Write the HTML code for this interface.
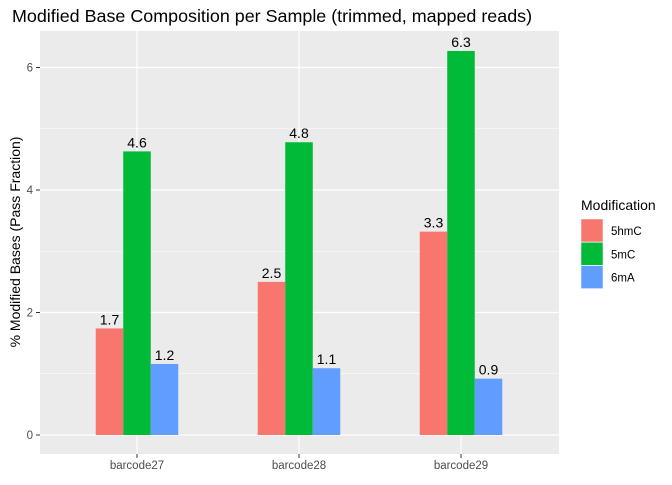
<!DOCTYPE html>
<html><head><meta charset="utf-8"><style>
body{margin:0;background:#fff;}
svg text{font-family:"Liberation Sans",sans-serif;}
</style></head><body>
<svg id="chart" width="672" height="480" xmlns="http://www.w3.org/2000/svg">
<rect width="672" height="480" fill="#fff"/>
<text x="12" y="22" font-size="17.9" fill="#000">Modified Base Composition per Sample (trimmed, mapped reads)</text>
<rect x="40" y="31" width="519" height="423" fill="#ebebeb"/>
<g id="grid"></g>
<g id="bars"></g>
<g id="axes"></g>
<text transform="translate(20,242) rotate(-90)" text-anchor="middle" font-size="14" fill="#000">% Modified Bases (Pass Fraction)</text>
<g>
<text x="581" y="210" font-size="14" fill="#000">Modification</text>
<g id="legend"></g>
</g>
</svg>
<script>
const categories=["barcode27","barcode28","barcode29"];
const seriesNames=["5hmC","5mC","6mA"];
const v5hmC=[1.74,2.5,3.32];
const v5mC=[4.63,4.78,6.27];
const v6mA=[1.16,1.09,0.92];
const yTicks=[0,2,4,6];
const colors=["#f8766d","#00ba38","#619cff"];
const series=[v5hmC,v5mC,v6mA];
const NS="http://www.w3.org/2000/svg";
const y0=435,perUnit=61.25;
function y(v){return y0-v*perUnit;}
function x(i){return 137+i*162;}
const bw=27.5;
function mk(tag,attrs,parent,text){const e=document.createElementNS(NS,tag);for(const k in attrs)e.setAttribute(k,attrs[k]);if(text!==undefined)e.textContent=text;parent.appendChild(e);return e;}
const grid=document.getElementById('grid'),bars=document.getElementById('bars'),axes=document.getElementById('axes'),legend=document.getElementById('legend');
for(let t=1;t<=7;t+=2){const yy=y(t);if(yy>31){const l=mk('line',{x1:40,x2:559,y1:yy,y2:yy,stroke:'#fff','stroke-width':0.6},grid);}}
yTicks.forEach(t=>{const yy=y(t);
const l=mk('line',{x1:40,x2:559,y1:yy,y2:yy,stroke:'#fff','stroke-width':1.2},grid);

const tk=mk('line',{x1:36,x2:40,y1:yy,y2:yy,stroke:'#333','stroke-width':1},axes);

const tx=mk('text',{x:33,y:yy+4,'text-anchor':'end','font-size':11.5,fill:'#4d4d4d'},axes,String(t));
});
categories.forEach((c,i)=>{const xx=x(i);
const g=mk('line',{x1:xx,x2:xx,y1:31,y2:454,stroke:'#fff','stroke-width':1.2},grid);

const tk=mk('line',{x1:xx,x2:xx,y1:454,y2:458,stroke:'#333','stroke-width':1},axes);

const tx=mk('text',{x:xx,y:469,'text-anchor':'middle','font-size':11.5,fill:'#4d4d4d'},axes,c);

series.forEach((s,j)=>{const bx=xx-1.5*bw+j*bw;const v=s[i];
const r=mk('rect',{x:bx,y:y(v),width:bw,height:y0-y(v),fill:colors[j]},bars);

const lb=mk('text',{x:bx+bw/2,y:y(v)-4,'text-anchor':'middle','font-size':14,fill:'#000'},bars,v.toFixed(1));
});});
seriesNames.forEach((n,j)=>{const ly=219+j*23.3;
const r=mk('rect',{x:581,y:ly,width:22,height:23,fill:colors[j],stroke:'#fff','stroke-width':0.5},legend);

const t=mk('text',{x:611,y:ly+16,'font-size':11.5,fill:'#000'},legend,n);
});
</script>
</body></html>
